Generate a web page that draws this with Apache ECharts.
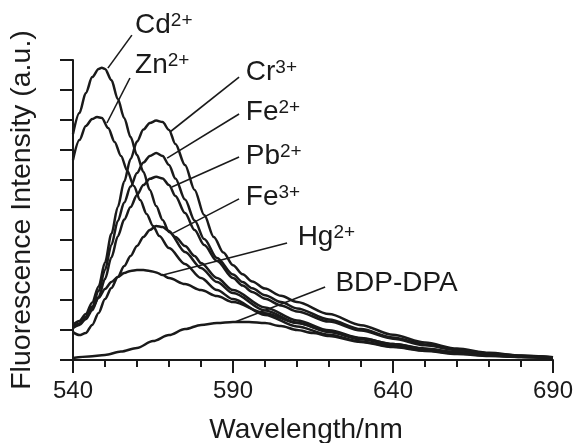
<!DOCTYPE html>
<html><head><meta charset="utf-8">
<script src="https://cdn.jsdelivr.net/npm/echarts@6/dist/echarts.min.js"></script>
<style>html,body{margin:0;padding:0;background:#fff}#c{width:576px;height:443px}</style>
</head><body><div id="c"></div>
<script>
// Emission spectra of BDP-DPA with metal ions: [wavelength nm, intensity a.u.]
const cd = [[540,75.3],[542,82.3],[544,89],[546,94.3],[548,97],[549,97.4],[550,97],[552,93.3],[554,87],[556,80.7],[558,74.3],[560,68.3],[562,62.7],[564,56.7],[566,51.3],[568,46.7],[570,42.7],[575,36],[580,30.7],[585,26],[590,22.3],[600,16.5],[610,12.4],[620,9.3],[630,6.9],[640,5],[650,3.5],[660,2.4],[670,1.6],[680,1.1],[690,0.7]];
const zn = [[540,66.7],[542,73.3],[544,78],[546,80.3],[547.5,81],[549,80.7],[551,77.3],[553,72.7],[555,68],[557,63],[559,58],[561,53.3],[563,48.7],[565,44.7],[567,41.3],[570,37.3],[575,32],[580,27.3],[585,23.3],[590,20.3],[600,15],[610,11.2],[620,8.4],[630,6.2],[640,4.5],[650,3.2],[660,2.2],[670,1.5],[680,1],[690,0.7]];
const cr = [[540,11.7],[542,13],[544,15.3],[546,19.2],[548,24.5],[550,32.5],[552,42],[554,51],[556,59.5],[558,67],[560,72.8],[562,76.8],[564,79],[566,79.8],[568,79.3],[570,76.7],[572,72],[575,65],[578,56.7],[581,48.3],[584,41],[587,35.8],[590,31.6],[593,28.6],[596,26.2],[600,23.8],[605,21.4],[610,19.3],[620,15.3],[630,11.6],[640,8.4],[650,5.8],[660,3.8],[670,2.4],[680,1.5],[690,0.9]];
const fe2 = [[540,11],[542,12.2],[544,14.3],[546,17.8],[548,23],[550,30],[552,38.3],[554,46.3],[556,52.5],[558,57.8],[560,62.3],[562,65.8],[564,68],[566,69],[568,68],[570,65],[572,60.5],[575,53.5],[578,46.5],[581,40.3],[585,34],[590,28.5],[593,26],[596,23.9],[600,21.6],[605,19.3],[610,17.2],[620,13.5],[630,10.3],[640,7.5],[650,5.2],[660,3.4],[670,2.2],[680,1.4],[690,0.9]];
const pb = [[540,10.7],[542,11.7],[544,13.6],[546,16.6],[548,21],[550,27],[552,34.2],[554,41.2],[556,46.8],[558,51],[560,55],[562,58.3],[564,60.4],[566,61.1],[568,60.5],[570,58.3],[572,54.7],[575,49],[578,43.3],[581,38.3],[585,33],[590,27.3],[593,24.8],[596,22.7],[600,20.4],[605,18.2],[610,16.2],[620,12.8],[630,9.8],[640,7.1],[650,4.9],[660,3.3],[670,2.1],[680,1.3],[690,0.8]];
const fe3 = [[540,9.3],[542,8.3],[544,9],[546,11.7],[548,15.7],[550,20.3],[552,24],[554,27.7],[556,31.3],[558,34.7],[560,38],[562,41],[564,43.3],[566,44.7],[568,44.3],[570,43],[572,41],[575,38],[578,34.7],[580,32.3],[585,27.3],[590,23.3],[600,17.5],[610,13.2],[620,9.9],[630,7.3],[640,5.3],[650,3.7],[660,2.5],[670,1.6],[680,1.1],[690,0.7]];
const hg = [[540,10.7],[542,12],[544,14.3],[546,17.3],[548,20.7],[550,23.7],[552,26],[554,27.7],[556,29],[558,29.7],[560,30],[562,30],[564,29.7],[566,29.2],[568,28.3],[570,27.3],[575,25.3],[580,23.3],[585,21.3],[590,19.3],[600,15.6],[610,12.3],[620,9.5],[630,7.2],[640,5.3],[650,3.8],[660,2.6],[670,1.7],[680,1.1],[690,0.7]];
const bdp = [[540,0.7],[545,1.2],[550,1.7],[555,2.8],[560,4],[565,6.3],[570,8.3],[575,10.3],[580,11.7],[585,12.3],[590,12.7],[595,12.7],[600,12.3],[605,11.3],[610,10],[615,9],[620,8],[630,6],[640,4.3],[650,3],[660,2],[670,1.3],[680,1],[690,0.7]];

const xTickLabels = ['540', '590', '640', '690'];
// annotation labels: name, charge, leader from [x,y] to [x,y], text anchor [x,y] (data units)
const labelNames   = ['Cd', 'Zn', 'Cr', 'Fe', 'Pb', 'Fe', 'Hg', 'BDP-DPA'];
const labelCharges = ['2+', '2+', '3+', '2+', '2+', '3+', '2+', ''];
const leaderFrom = [[550.9,97.3],[550.6,79],[570.3,76],[569.4,67.3],[570.9,57.7],[571.3,42.3],[568.1,28.3],[590.6,12.7]];
const leaderTo   = [[558.4,108.3],[557.8,94],[591.9,94.3],[591.9,82],[591.9,67.7],[591.9,53.7],[606.9,39],[618.8,24.3]];
const labelAt    = [[559.4,111.5],[559.4,98.2],[594.0,95.9],[594.0,82.5],[594.0,67.9],[594.0,54.2],[610.2,40.9],[622.0,25.5]];

const seriesData = [cd, zn, cr, fe2, pb, fe3, hg, bdp];
const FONT = 'Liberation Sans, Arial, Helvetica, sans-serif';
const INK = '#1a1a1a';

const chart = echarts.init(document.getElementById('c'), null, {renderer: 'canvas'});
chart.setOption({
  animation: false,
  backgroundColor: '#fff',
  grid: {left: 73, right: 23, top: 60, bottom: 83, outerBoundsMode: 'none', containLabel: false},
  xAxis: {
    type: 'value', min: 540, max: 690, interval: 50,
    name: 'Wavelength/nm', nameLocation: 'middle', nameGap: 56,
    nameTextStyle: {fontFamily: FONT, fontSize: 28, color: INK, padding: [0, 14, 0, 0]},
    axisLine: {lineStyle: {color: INK, width: 2}},
    axisTick: {length: 13, lineStyle: {color: INK, width: 2}},
    minorTick: {show: true, splitNumber: 5, length: 7, lineStyle: {color: INK, width: 2}},
    axisLabel: {margin: 19, fontFamily: FONT, fontSize: 24, color: INK,
      formatter: v => xTickLabels.indexOf(String(v)) >= 0 ? String(v) : ''},
    splitLine: {show: false}, minorSplitLine: {show: false}
  },
  yAxis: {
    type: 'value', min: 0, max: 100, interval: 10,
    name: 'Fluorescence Intensity (a.u.)', nameLocation: 'middle', nameGap: 36, nameRotate: 90,
    nameTextStyle: {fontFamily: FONT, fontSize: 28.5, color: INK},
    axisLine: {show: true, lineStyle: {color: INK, width: 2}},
    axisTick: {show: true, length: 13, lineStyle: {color: INK, width: 2}},
    axisLabel: {show: false},
    splitLine: {show: false}
  },
  series: seriesData.map(d => ({
    type: 'line', data: d, smooth: 0.3, smoothMonotone: 'x', symbol: 'none', clip: false,
    lineStyle: {color: INK, width: 2.5}
  }))
});

const px = p => chart.convertToPixel({gridIndex: 0}, p);
const graphics = [];
labelNames.forEach((name, i) => {
  const a = px(leaderFrom[i]), b = px(leaderTo[i]), t = px(labelAt[i]);
  graphics.push({type: 'line', shape: {x1: a[0], y1: a[1], x2: b[0], y2: b[1]},
    style: {stroke: INK, lineWidth: 1.6}, silent: true});
  graphics.push({type: 'text', x: t[0], y: t[1], silent: true,
    style: {
      text: labelCharges[i] ? '{b|' + name + '}{s|' + labelCharges[i] + '}' : '{b|' + name + '}',
      align: 'left', verticalAlign: 'middle', fill: INK,
      rich: {
        b: {fontFamily: FONT, fontSize: 28, lineHeight: 28, fill: INK},
        s: {fontFamily: FONT, fontSize: 19, verticalAlign: 'top', fill: INK}
      }
    }});
});
chart.setOption({graphic: graphics});
</script></body></html>
